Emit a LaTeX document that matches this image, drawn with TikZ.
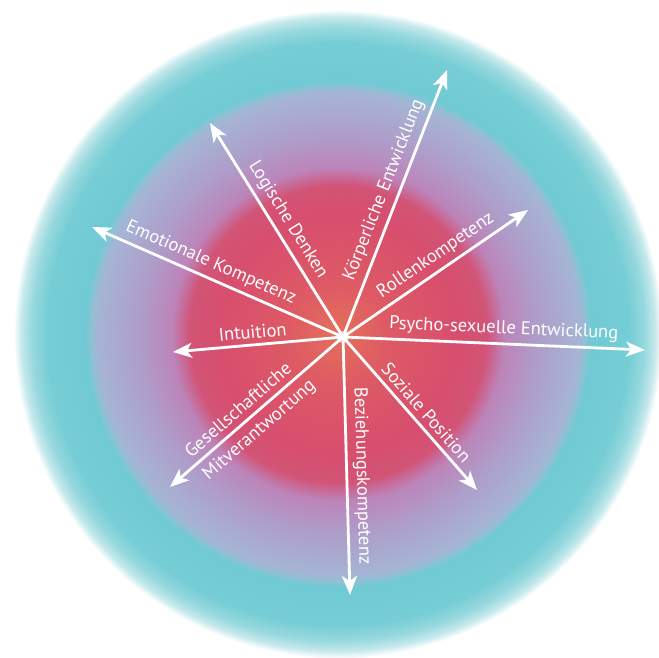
\documentclass[tikz,border=0pt]{standalone}
\usepackage{fontspec}
\setmainfont{PT Sans}
\usetikzlibrary{arrows.meta}
\definecolor{s0}{RGB}{228,112,92}
\definecolor{s1}{RGB}{222,90,100}
\definecolor{s2}{RGB}{215,78,110}
\definecolor{s3}{RGB}{210,84,118}
\definecolor{s4}{RGB}{200,105,150}
\definecolor{s5}{RGB}{188,132,185}
\definecolor{s6}{RGB}{174,158,202}
\definecolor{s7}{RGB}{165,180,212}
\definecolor{s8}{RGB}{145,192,212}
\definecolor{s9}{RGB}{112,202,212}
\definecolor{s10}{RGB}{118,205,213}
\definecolor{s11}{RGB}{150,216,222}
\definecolor{s12}{RGB}{198,233,236}
\pgfdeclareradialshading{bgshade}{\pgfpoint{0bp}{0bp}}{%
 color(0bp)=(s0); color(50bp)=(s1); color(120bp)=(s2); color(148bp)=(s3);
 color(156bp)=(s4); color(166bp)=(s5); color(200bp)=(s6); color(240bp)=(s7);
 color(246bp)=(s8); color(252bp)=(s9); color(290bp)=(s10); color(305bp)=(s11);
 color(316bp)=(s12); color(323bp)=(white); color(330bp)=(white)}
\tikzset{
 arr/.style={draw=white, line width=2.8pt, -{Stealth[length=19pt,width=15pt,inset=5pt]}},
 lbl/.style={text=white, font=\fontsize{18.5}{20}\selectfont, inner sep=1pt}
}
\begin{document}
\begin{tikzpicture}[x=1pt,y=1pt]
\useasboundingbox (0,0) rectangle (659,658);
\begin{scope}
\clip (0,0) rectangle (659,658);
\node[inner sep=0pt, outer sep=0pt] (bg) at (338,324) {\pgfuseshading{bgshade}};
\end{scope}
\coordinate (c) at (343,321);
\coordinate (t1) at (447,588);
\coordinate (t2) at (210,535);
\coordinate (t3) at (92,431);
\coordinate (t4) at (173,306);
\coordinate (t5) at (170,171);
\coordinate (t6) at (350,63);
\coordinate (t7) at (477,168);
\coordinate (t8) at (645,308);
\coordinate (t9) at (528,448);
\draw[arr] (c) -- (t1) node[lbl, pos=0.53, sloped, above=4pt] (l1) {Körperliche Entwicklung};
\draw[arr] (c) -- (t2) node[lbl, pos=0.51, sloped, above=4pt] (l2) {Logische Denken};
\draw[arr] (c) -- (t3) node[lbl, pos=0.55, sloped, above=4pt] (l3) {Emotionale Kompetenz};
\draw[arr] (c) -- (t4) node[lbl, pos=0.525, sloped, above=4pt] (l4) {Intuition};
\draw[arr] (c) -- (t5) node[lbl, pos=0.555, sloped, above=5pt] (l5a) {Gesellschaftliche}
                      node[lbl, pos=0.543, sloped, below=5pt] (l5b) {Mitverantwortung};
\draw[arr] (c) -- (t6) node[lbl, pos=0.54, sloped, above=4pt] (l6) {Beziehungskompetenz};
\draw[arr] (c) -- (t7) node[lbl, pos=0.55, sloped, above=4pt] (l7) {Soziale Position};
\draw[arr] (c) -- (t8) node[lbl, pos=0.53, sloped, above=4pt] (l8) {Psycho-sexuelle Entwicklung};
\draw[arr] (c) -- (t9) node[lbl, pos=0.547, sloped, above=4pt] (l9) {Rollenkompetenz};
\fill[white, opacity=0.5] (c) circle (6);
\fill[white] (c) circle (3.5);
\end{tikzpicture}
\end{document}
